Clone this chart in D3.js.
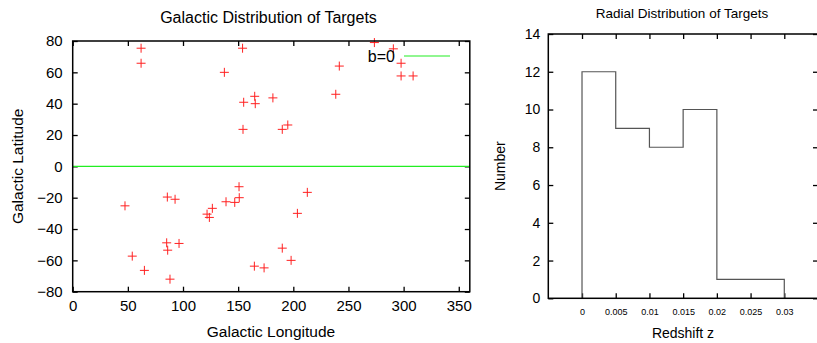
<!DOCTYPE html>
<html>
<head>
  <meta charset="utf-8">
  <title>Targets</title>
  <style>
  body { margin: 0; background: #fff; }
  text { font-family: "Liberation Sans", Arial, sans-serif; fill: #000; }
  .tick line { stroke: #000; stroke-width: 1.3px; }
  </style>
</head>
<body>
  <svg width="817" height="343"></svg>
  <script src="https://d3js.org/d3.v7.min.js"></script>
  <script>
  // galactic coordinates of the targets (deg)
  var lon = [62, 62, 137.5, 154, 155, 154.4, 165, 165.5, 181.5, 190, 195, 238.5, 241.7, 273.5, 290.7, 297.7, 297.7, 308.6,
             47.4, 54, 65, 85.8, 92.8, 85.2, 86.1, 96.4, 88.2, 121.8, 123.9, 126.6, 139, 146.9, 150.8, 151, 164.7, 173.5,
             190, 198, 203.7, 212.7];
  var lat = [75.4, 65.8, 60, 75.4, 40.9, 23.6, 44.7, 40, 43.7, 23.6, 26.4, 46, 64, 79, 75, 65.8, 57.7, 57.7,
             -25.2, -57.3, -66.4, -19.6, -21, -48.8, -53.5, -49.2, -72, -30.5, -32.6, -26.8, -22.6, -23, -13, -20, -63.7, -64.8,
             -52.2, -60, -30, -16.6];
  var lonTicks = [0, 50, 100, 150, 200, 250, 300, 350];
  var latTicks = [-80, -60, -40, -20, 0, 20, 40, 60, 80];

  // redshift histogram
  var binEdges = [0, 0.005, 0.01, 0.015, 0.02, 0.025, 0.03];
  var binCounts = [12, 9, 8, 10, 1, 1];
  var zTicks = [0, 0.005, 0.01, 0.015, 0.02, 0.025, 0.03];
  var zTickLabels = ["0", "0.005", "0.01", "0.015", "0.02", "0.025", "0.03"];
  var nTicks = [0, 2, 4, 6, 8, 10, 12, 14];

  var svg = d3.select("svg");

  // ---------- left: galactic distribution ----------
  var x = d3.scaleLinear().domain([0, 360]).range([72.7, 469.8]);
  var y = d3.scaleLinear().domain([-80, 80]).range([291.7, 41]);
  var g = svg.append("g");

  g.append("g")
    .attr("transform", "translate(0," + y(-80) + ")")
    .call(d3.axisBottom(x).tickValues(lonTicks).tickSize(-5).tickPadding(9))
    .call(function(a) { a.select(".domain").remove(); a.selectAll("text").style("font-size", "15px"); });
  g.append("g")
    .attr("transform", "translate(0," + y(80) + ")")
    .call(d3.axisTop(x).tickValues(lonTicks).tickSize(-5).tickFormat(""))
    .call(function(a) { a.select(".domain").remove(); });
  g.append("g")
    .attr("transform", "translate(" + x(0) + ",0)")
    .call(d3.axisLeft(y).tickValues(latTicks).tickSize(-5).tickPadding(10))
    .call(function(a) { a.select(".domain").remove(); a.selectAll("text").style("font-size", "15px"); });
  g.append("g")
    .attr("transform", "translate(" + x(360) + ",0)")
    .call(d3.axisRight(y).tickValues(latTicks).tickSize(-5).tickFormat(""))
    .call(function(a) { a.select(".domain").remove(); });

  // b=0 line
  g.append("line")
    .attr("x1", x(0)).attr("x2", x(360))
    .attr("y1", y(0)).attr("y2", y(0))
    .attr("stroke", "#22ee22").attr("stroke-width", 1.2);

  // targets as + marks
  var pts = g.selectAll(".pt").data(lon).enter().append("path")
    .attr("class", "pt")
    .attr("d", function(d, i) {
      var px = x(d), py = y(lat[i]);
      return "M" + (px - 4.5) + "," + py + "H" + (px + 4.5) + "M" + px + "," + (py - 4.5) + "V" + (py + 4.5);
    })
    .attr("stroke", "#ff2020").attr("stroke-width", 1).attr("fill", "none");

  // legend
  g.append("text").attr("x", 395).attr("y", 56).attr("dy", "0.35em")
    .attr("text-anchor", "end").style("font-size", "16px").text("b=0");
  g.append("line").attr("x1", 404).attr("x2", 450).attr("y1", 56).attr("y2", 56)
    .attr("stroke", "#22ee22").attr("stroke-width", 1.2);

  // frame
  g.append("rect")
    .attr("x", x(0)).attr("y", y(80))
    .attr("width", x(360) - x(0)).attr("height", y(-80) - y(80))
    .attr("fill", "none").attr("stroke", "#000").attr("stroke-width", 1.5);

  g.append("text").attr("x", 268.5).attr("y", 22.5).attr("text-anchor", "middle")
    .style("font-size", "16px").text("Galactic Distribution of Targets");
  g.append("text").attr("x", 271).attr("y", 337).attr("text-anchor", "middle")
    .style("font-size", "15.5px").text("Galactic Longitude");
  g.append("text").attr("transform", "translate(23," + y(0) + ") rotate(-90)")
    .attr("text-anchor", "middle").style("font-size", "15.5px").text("Galactic Latitude");

  // ---------- right: redshift histogram ----------
  var xz = d3.scaleLinear().domain([-0.005, 0.035]).range([548.3, 818]);
  var yn = d3.scaleLinear().domain([0, 14]).range([298.3, 34]);
  var h = svg.append("g");

  h.append("g")
    .attr("transform", "translate(0," + yn(0) + ")")
    .call(d3.axisBottom(xz).tickValues(zTicks).tickSize(-5).tickPadding(10)
      .tickFormat(function(d, i) { return zTickLabels[i]; }))
    .call(function(a) { a.select(".domain").remove(); a.selectAll("text").style("font-size", "9px"); });
  h.append("g")
    .attr("transform", "translate(0," + yn(14) + ")")
    .call(d3.axisTop(xz).tickValues(zTicks).tickSize(-5).tickFormat(""))
    .call(function(a) { a.select(".domain").remove(); });
  h.append("g")
    .attr("transform", "translate(" + xz(-0.005) + ",0)")
    .call(d3.axisLeft(yn).tickValues(nTicks).tickSize(-5).tickPadding(8))
    .call(function(a) { a.select(".domain").remove(); a.selectAll("text").style("font-size", "14px"); });
  h.append("g")
    .attr("transform", "translate(" + xz(0.035) + ",0)")
    .call(d3.axisRight(yn).tickValues(nTicks).tickSize(-5).tickFormat(""))
    .call(function(a) { a.select(".domain").remove(); });

  // step outline of the histogram
  var steps = [[binEdges[0], 0]];
  binCounts.forEach(function(c, i) {
    steps.push([binEdges[i], c]);
    steps.push([binEdges[i + 1], c]);
  });
  steps.push([binEdges[binEdges.length - 1], 0]);
  h.append("path")
    .datum(steps)
    .attr("d", d3.line().x(function(d) { return xz(d[0]); }).y(function(d) { return yn(d[1]); }))
    .attr("fill", "none").attr("stroke", "#555").attr("stroke-width", 1.2);

  h.append("rect")
    .attr("x", xz(-0.005)).attr("y", yn(14))
    .attr("width", xz(0.035) - xz(-0.005)).attr("height", yn(0) - yn(14))
    .attr("fill", "none").attr("stroke", "#000").attr("stroke-width", 1.5);

  h.append("text").attr("x", 682).attr("y", 18).attr("text-anchor", "middle")
    .style("font-size", "13.5px").text("Radial Distribution of Targets");
  h.append("text").attr("x", 683).attr("y", 338).attr("text-anchor", "middle")
    .style("font-size", "14px").text("Redshift z");
  h.append("text").attr("transform", "translate(505," + yn(7) + ") rotate(-90)")
    .attr("text-anchor", "middle").style("font-size", "14px").text("Number");
  </script>
</body>
</html>
